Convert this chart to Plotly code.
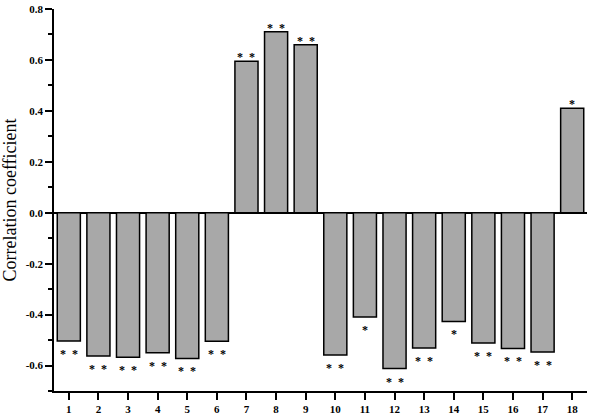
import plotly.graph_objects as go

# indicator number on the x axis
indicators = list(range(1, 18 + 1))
# correlation coefficient per indicator
coefficients = [-0.504, -0.563, -0.567, -0.550, -0.572, -0.505, 0.595, 0.711, 0.660,
                -0.559, -0.409, -0.612, -0.531, -0.427, -0.512, -0.533, -0.547, 0.410]
# significance marks
marks = ["**", "**", "**", "**", "**", "**", "**", "**", "**",
         "**", "*", "**", "**", "*", "**", "**", "**", "*"]

FONT = "Liberation Serif, Times New Roman, serif"

fig = go.Figure()
fig.add_trace(go.Bar(
    x=indicators,
    y=coefficients,
    width=0.78,
    marker=dict(color="#a8a8a8", line=dict(color="black", width=1.5)),
    hoverinfo="x+y",
))

# significance stars above positive bars / below negative bars
for x, v, m in zip(indicators, coefficients, marks):
    txt = "*\u00a0\u00a0*" if m == "**" else "*"
    fig.add_annotation(
        x=x, y=v, text=txt, showarrow=False,
        yanchor="middle", yshift=4 if v > 0 else -13,
        font=dict(family=FONT, size=12, color="black", weight="bold"),
    )

fig.update_layout(
    width=590, height=418,
    margin=dict(l=53, r=3, t=5, b=23),
    paper_bgcolor="white", plot_bgcolor="white",
    showlegend=False,
    font=dict(family=FONT, color="black"),
)
fig.update_xaxes(
    range=[0.5, 18.5],
    tickmode="array", tickvals=indicators,
    ticks="outside", ticklen=7, tickwidth=1.5, tickcolor="black",
    showline=True, linecolor="black", linewidth=1.5,
    showgrid=False, zeroline=False, ticklabeloverflow="allow",
    tickfont=dict(family=FONT, size=11, color="black", weight="bold"),
)
fig.update_yaxes(
    range=[-0.7, 0.8],
    tickmode="array",
    tickvals=[-0.6, -0.4, -0.2, 0.0, 0.2, 0.4, 0.6, 0.8],
    ticktext=["-0.6", "-0.4", "-0.2", "0.0", "0.2", "0.4", "0.6", "0.8"],
    ticks="outside", ticklen=7, tickwidth=1.5, tickcolor="black",
    minor=dict(tickvals=[-0.7, -0.5, -0.3, -0.1, 0.1, 0.3, 0.5, 0.7],
               ticks="outside", ticklen=4, tickwidth=1.5, tickcolor="black"),
    showline=True, linecolor="black", linewidth=1.5,
    showgrid=False, ticklabeloverflow="allow",
    zeroline=True, zerolinecolor="black", zerolinewidth=1.5,
    tickfont=dict(family=FONT, size=11, color="black", weight="bold"),
    title=dict(text="Correlation coefficient", font=dict(family=FONT, size=18, color="black"),
               standoff=10),
)

# drop the default 8px body margin so the figure fills the window
fig.write_html("out.html", config={"displayModeBar": False},
               post_script="document.body.style.margin='0';")
